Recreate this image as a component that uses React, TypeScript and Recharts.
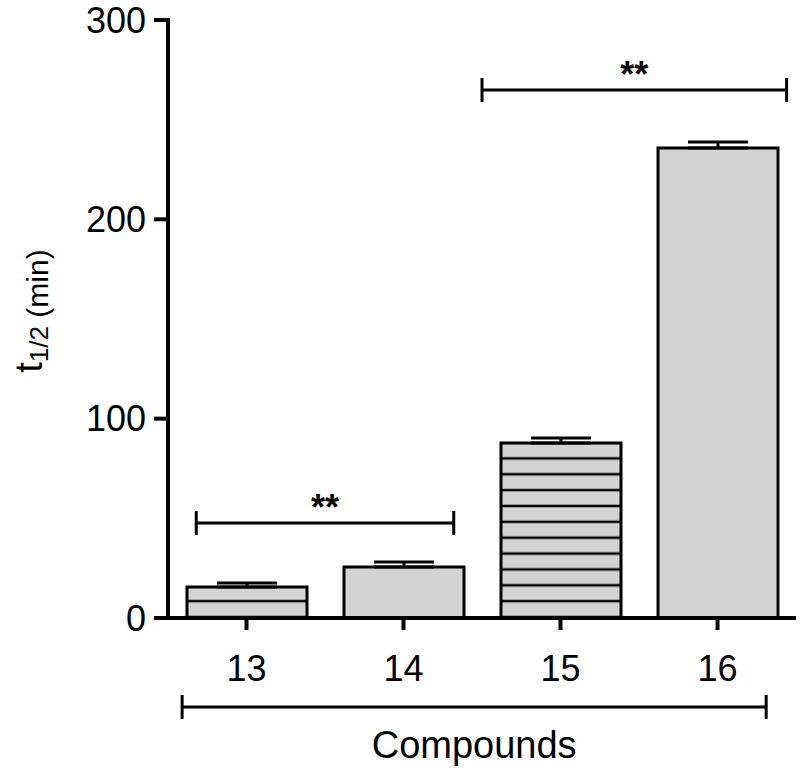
import React from 'react';
import { ComposedChart, Bar, Cell, ErrorBar, XAxis, YAxis, ReferenceLine } from 'recharts';

// values
const compounds = ['13', '14', '15', '16'];
const positions = [1, 2, 3, 4];
const halfLife = [15.5, 25.6, 87.8, 235.8];
const sem = [2.1, 2.5, 2.5, 3.0];
const striped = [true, false, true, false];
const yTicks = [0, 100, 200, 300];

// significance brackets (x in compound slots, y in minutes)
const sigStart = [0.68, 2.5];
const sigEnd = [2.32, 4.44];
const sigLevel = [47.7, 264.9];
const sigText = ['**', '**'];

// grouping bracket under the axis
const groupStart = 0.59;
const groupEnd = 4.31;
const groupLevel = -44.6;
const groupText = 'Compounds';
const capHalf = 6;

const data = compounds.map((c, i) => ({
  name: c,
  pos: positions[i],
  t: halfLife[i],
  err: [0, sem[i]],
}));

const FONT = '"Liberation Sans", Arial, Helvetica, sans-serif';

const YLabel = (props: any) => {
  const vb = props.viewBox;
  const cx = vb.x + 42;
  const cy = vb.y + vb.height / 2 - 8;
  return (
    <text
      x={cx}
      y={cy}
      transform={`rotate(-90, ${cx}, ${cy})`}
      textAnchor="middle"
      fill="#000"
      fontSize={38}
      fontFamily={FONT}
    >
      t
      <tspan fontSize={26} dy={6}>1/2</tspan>
      <tspan fontSize={30}> (min)</tspan>
    </text>
  );
};

export default function App() {
  const lines: React.ReactNode[] = [];
  const brackets = sigStart.map((s, i) => ({ s, e: sigEnd[i], y: sigLevel[i], text: sigText[i] }));

  brackets.forEach((b, i) => {
    lines.push(
      <ReferenceLine
        key={`sig-h-${i}`}
        segment={[{ x: b.s, y: b.y }, { x: b.e, y: b.y }]}
        stroke="#000"
        strokeWidth={3}
        ifOverflow="visible"
        label={{ value: b.text, position: 'top', offset: 3, fill: '#000', fontSize: 36, fontWeight: 'bold', fontFamily: FONT }}
      />
    );
    [b.s, b.e].forEach((x, j) =>
      lines.push(
        <ReferenceLine
          key={`sig-v-${i}-${j}`}
          segment={[{ x, y: b.y - capHalf }, { x, y: b.y + capHalf }]}
          stroke="#000"
          strokeWidth={3}
          ifOverflow="visible"
        />
      )
    );
  });

  lines.push(
    <ReferenceLine
      key="grp-h"
      segment={[{ x: groupStart, y: groupLevel }, { x: groupEnd, y: groupLevel }]}
      stroke="#000"
      strokeWidth={3}
      ifOverflow="visible"
      label={{ value: groupText, position: 'bottom', offset: 24, fill: '#000', fontSize: 38, fontFamily: FONT }}
    />
  );
  [groupStart, groupEnd].forEach((x, j) =>
    lines.push(
      <ReferenceLine
        key={`grp-v-${j}`}
        segment={[{ x, y: groupLevel - capHalf }, { x, y: groupLevel + capHalf }]}
        stroke="#000"
        strokeWidth={3}
        ifOverflow="visible"
      />
    )
  );

  return (
    <div style={{ position: 'absolute', left: 0, top: 0, width: 800, height: 770, background: '#fff', fontFamily: FONT }}>
      <ComposedChart
        width={800}
        height={770}
        data={data}
        margin={{ top: 20, right: 4, bottom: 0, left: 0 }}
      >
        <defs>
          <pattern id="hstripes" patternUnits="userSpaceOnUse" x={0} y={617 - 7.93} width={20} height={15.86}>
            <rect x={0} y={0} width={20} height={15.86} fill="#d3d3d3" />
            <line x1={0} x2={20} y1={7.93} y2={7.93} stroke="#000" strokeWidth={2.5} />
          </pattern>
        </defs>
        <XAxis
          type="number"
          dataKey="pos"
          domain={[0.5, 4.5]}
          ticks={positions}
          interval={0}
          allowDataOverflow
          tickFormatter={(v: number) => compounds[v - 1]}
          height={152}
          tickSize={12}
          tickMargin={25}
          axisLine={{ stroke: '#000', strokeWidth: 4 }}
          tickLine={{ stroke: '#000', strokeWidth: 4 }}
          tick={{ fill: '#000', fontSize: 36, fontFamily: FONT }}
        />
        <YAxis
          domain={[0, 300]}
          ticks={yTicks}
          interval={0}
          width={168}
          tickSize={14}
          tickMargin={8}
          axisLine={{ stroke: '#000', strokeWidth: 4, strokeLinecap: 'square' }}
          tickLine={{ stroke: '#000', strokeWidth: 4 }}
          tick={{ fill: '#000', fontSize: 36, fontFamily: FONT }}
          label={YLabel}
        />
        <Bar dataKey="t" barSize={120} stroke="#000" strokeWidth={3} isAnimationActive={false}>
          {data.map((d, i) => (
            <Cell key={d.name} fill={striped[i] ? 'url(#hstripes)' : '#d3d3d3'} />
          ))}
          <ErrorBar dataKey="err" direction="y" width={30} stroke="#000" strokeWidth={3} isAnimationActive={false} />
        </Bar>
        {lines}
      </ComposedChart>
    </div>
  );
}
